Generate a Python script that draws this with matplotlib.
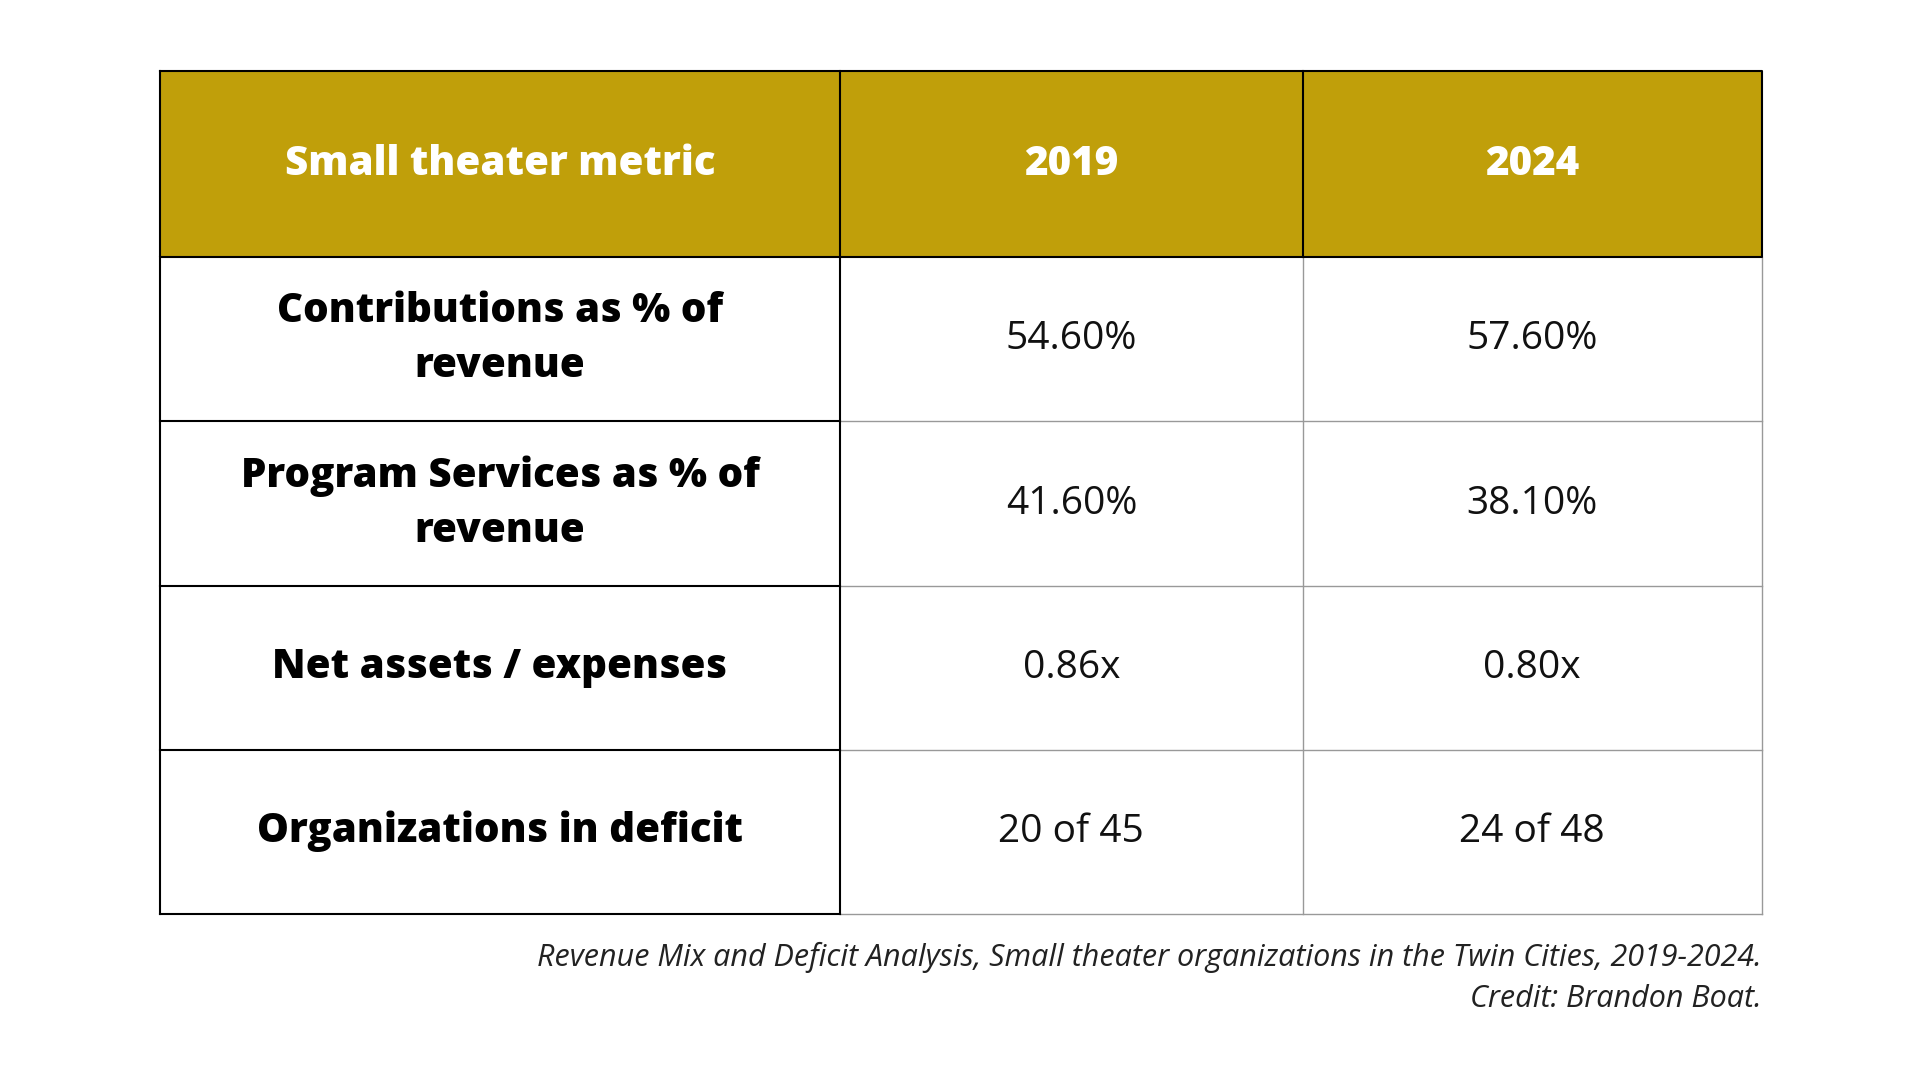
import matplotlib
matplotlib.use("Agg")
import matplotlib.pyplot as plt
from matplotlib.patches import Rectangle

headers = ["Small theater metric", "2019", "2024"]
metrics = ["Contributions as % of\nrevenue", "Program Services as % of\nrevenue",
           "Net assets / expenses", "Organizations in deficit"]
vals_2019 = ["54.60%", "41.60%", "0.86x", "20 of 45"]
vals_2024 = ["57.60%", "38.10%", "0.80x", "24 of 48"]
caption = "Revenue Mix and Deficit Analysis, Small theater organizations in the Twin Cities, 2019-2024.\nCredit: Brandon Boat."

FONT = ["Open Sans", "DejaVu Sans"]
fig = plt.figure(figsize=(19.2, 10.8), dpi=100)
ax = fig.add_axes([0, 0, 1, 1])
ax.set_xlim(0, 1); ax.set_ylim(0, 1); ax.axis("off")

xs = [0.0833, 0.4375, 0.6785, 0.9175]
ys = [0.934, 0.762, 0.610, 0.457, 0.306, 0.154]
gold = "#C09F0A"

ax.add_patch(Rectangle((xs[0], ys[1]), xs[3]-xs[0], ys[0]-ys[1], color=gold, lw=0))
for i, h in enumerate(headers):
    ax.text((xs[i]+xs[i+1])/2, (ys[0]+ys[1])/2, h, ha="center", va="center",
            color="white", fontsize=29, fontweight="heavy", family=FONT)

for y in ys[2:6]:
    ax.plot([xs[1], xs[3]], [y, y], color="#999999", lw=1)
ax.plot([xs[2], xs[2]], [ys[1], ys[5]], color="#999999", lw=1)
ax.plot([xs[3], xs[3]], [ys[1], ys[5]], color="#999999", lw=1)
ax.plot([xs[0], xs[3], xs[3], xs[0], xs[0]], [ys[0], ys[0], ys[1], ys[1], ys[0]], color="black", lw=1.5)
ax.plot([xs[1], xs[1]], [ys[0], ys[5]], color="black", lw=1.5)
ax.plot([xs[2], xs[2]], [ys[0], ys[1]], color="black", lw=1.5)
ax.plot([xs[0], xs[0]], [ys[1], ys[5]], color="black", lw=1.5)
for y in ys[2:]:
    ax.plot([xs[0], xs[1]], [y, y], color="black", lw=1.5)

for r in range(4):
    yc = (ys[r+1]+ys[r+2])/2
    ax.text((xs[0]+xs[1])/2, yc, metrics[r], ha="center", va="center", color="black",
            fontsize=29, fontweight="heavy", family=FONT, linespacing=1.45)
    ax.text((xs[1]+xs[2])/2, yc, vals_2019[r], ha="center", va="center", color="#111111",
            fontsize=28, family=FONT)
    ax.text((xs[2]+xs[3])/2, yc, vals_2024[r], ha="center", va="center", color="#111111",
            fontsize=28, family=FONT)

ax.text(xs[3], 0.128, caption, ha="right", va="top", fontsize=22, style="italic",
        color="#222222", family=FONT, linespacing=1.5)

fig.savefig("out.png", dpi=100, facecolor="white")
